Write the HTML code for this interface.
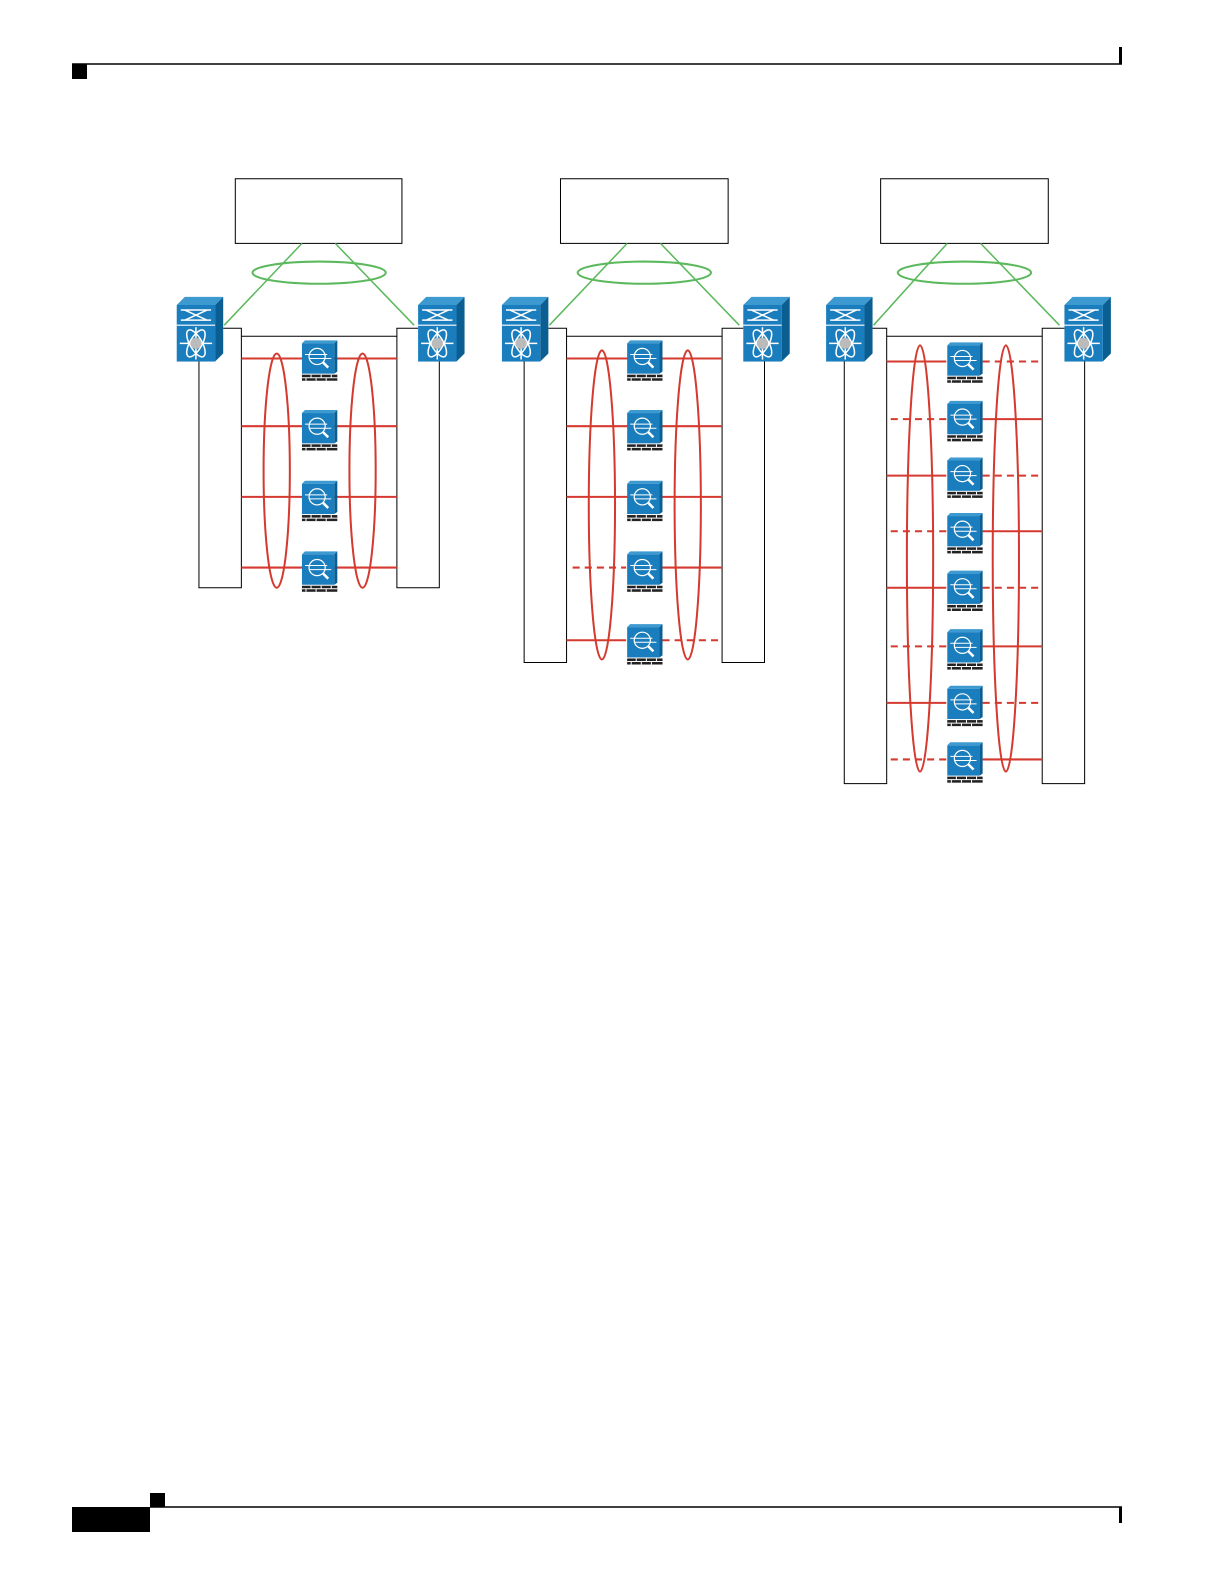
<!DOCTYPE html>
<html><head><meta charset="utf-8"><style>
html,body{margin:0;padding:0;background:#fff}
svg{display:block}
</style></head><body>
<svg width="1224" height="1584" viewBox="0 0 1224 1584" xmlns="http://www.w3.org/2000/svg">
<defs>
<g id="sw">
  <polygon points="0,8 8,0 46,0 38,8" fill="#3d9ad1"/>
  <polygon points="38,8 46,0 46,56 38,64" fill="#0a5e91"/>
  <rect x="0" y="8" width="38" height="20" fill="#1a7dbd"/>
  <rect x="0" y="28" width="38" height="36" fill="#1a7dbd"/>
  <line x1="0" y1="28" x2="38" y2="28" stroke="#fff" stroke-width="1"/>
  <g stroke="#fff" stroke-width="1.5" fill="none">
    <line x1="4" y1="13" x2="34" y2="13"/><line x1="4" y1="23" x2="34" y2="23"/>
    <line x1="8" y1="13" x2="30" y2="23"/><line x1="8" y1="23" x2="30" y2="13"/>
    <ellipse cx="19" cy="46" rx="15" ry="6" transform="rotate(60 19 46)"/>
    <ellipse cx="19" cy="46" rx="15" ry="6" transform="rotate(-60 19 46)"/>
    <line x1="3" y1="46" x2="35" y2="46"/><line x1="19" y1="30" x2="19" y2="62"/>
  </g>
  <circle cx="19" cy="46" r="5.5" fill="#bbb"/>
</g>
<g id="fw">
  <polygon points="-17,-14 -14,-17 18,-17 15,-14" fill="#3d9ad1"/>
  <polygon points="15,-14 18,-17 18,14 15,16" fill="#0a5e91"/>
  <rect x="-17" y="-14" width="32" height="30" fill="#1a7dbd"/>
  <circle cx="-2" cy="-1" r="8" fill="none" stroke="#fff" stroke-width="1.2"/>
  <line x1="4" y1="5" x2="9" y2="10" stroke="#fff" stroke-width="2.5"/>
  <line x1="-14" y1="-3" x2="8" y2="-3" stroke="#fff" stroke-width="1"/>
  <line x1="-10" y1="1" x2="12" y2="1" stroke="#fff" stroke-width="1"/>
  <rect x="-17" y="17" width="35" height="6" fill="#222"/>
  <g stroke="#fff" stroke-width="1">
    <line x1="-17" y1="20" x2="18" y2="20"/>
    <line x1="-8" y1="17" x2="-8" y2="20"/><line x1="2" y1="17" x2="2" y2="20"/><line x1="12" y1="17" x2="12" y2="20"/>
    <line x1="-13" y1="20" x2="-13" y2="23"/><line x1="-3" y1="20" x2="-3" y2="23"/><line x1="7" y1="20" x2="7" y2="23"/>
  </g>
</g>
</defs>

<line x1="72" y1="64" x2="1122" y2="64" stroke="#000" stroke-width="1.5"/>
<rect x="72" y="64" width="15" height="15" fill="#000"/>
<rect x="1119" y="47" width="3" height="17" fill="#000"/>
<line x1="150" y1="1507" x2="1122" y2="1507" stroke="#000" stroke-width="1.5"/>
<rect x="72" y="1507" width="78" height="25" fill="#000"/>
<rect x="150" y="1493" width="15" height="14" fill="#000"/>
<rect x="1119" y="1507" width="3" height="16" fill="#000"/>

<g transform="scale(1.0099)">
<g fill="none" stroke-width="1">
<rect x="233" y="177" width="165" height="64" stroke="#000"/>
<line x1="299" y1="241" x2="222" y2="322" stroke="#5cb85c" stroke-width="1.5"/>
<line x1="332" y1="241" x2="410" y2="322" stroke="#5cb85c" stroke-width="1.5"/>
<ellipse cx="316" cy="270" rx="66" ry="11" stroke="#5cb85c" stroke-width="2"/>
<polyline points="221,325 239,325 239,582 197,582 197,358" stroke="#000"/>
<polyline points="414,325 393,325 393,582 435,582 435,358" stroke="#000"/>
<line x1="239" y1="333" x2="393" y2="333" stroke="#000"/>
<g stroke="#d43a2f" stroke-width="2">
<line x1="239" y1="355" x2="393" y2="355"/><line x1="239" y1="422" x2="393" y2="422"/>
<line x1="239" y1="492" x2="393" y2="492"/><line x1="239" y1="562" x2="393" y2="562"/>
<ellipse cx="274" cy="466" rx="13" ry="116"/><ellipse cx="359" cy="466" rx="13" ry="116"/>
</g>

<rect x="555" y="177" width="166" height="64" stroke="#000"/>
<line x1="621" y1="241" x2="544" y2="322" stroke="#5cb85c" stroke-width="1.5"/>
<line x1="654" y1="241" x2="732" y2="322" stroke="#5cb85c" stroke-width="1.5"/>
<ellipse cx="638" cy="270" rx="66" ry="11" stroke="#5cb85c" stroke-width="2"/>
<polyline points="543,325 561,325 561,656 519,656 519,358" stroke="#000"/>
<polyline points="736,325 715,325 715,656 757,656 757,358" stroke="#000"/>
<line x1="561" y1="333" x2="715" y2="333" stroke="#000"/>
<g stroke="#d43a2f" stroke-width="2">
<line x1="561" y1="355" x2="715" y2="355"/><line x1="561" y1="422" x2="715" y2="422"/>
<line x1="561" y1="492" x2="715" y2="492"/>
<line x1="567" y1="562" x2="620" y2="562" stroke-dasharray="7,5"/><line x1="656" y1="562" x2="715" y2="562"/>
<line x1="561" y1="634" x2="620" y2="634"/><line x1="656" y1="634" x2="712" y2="634" stroke-dasharray="7,5"/>
<ellipse cx="596" cy="500" rx="13" ry="153"/><ellipse cx="681" cy="500" rx="13" ry="153"/>
</g>

<rect x="872" y="177" width="166" height="64" stroke="#000"/>
<line x1="938" y1="241" x2="865" y2="322" stroke="#5cb85c" stroke-width="1.5"/>
<line x1="971" y1="241" x2="1049" y2="322" stroke="#5cb85c" stroke-width="1.5"/>
<ellipse cx="955" cy="270" rx="66" ry="11" stroke="#5cb85c" stroke-width="2"/>
<polyline points="864,325 878,325 878,776 836,776 836,358" stroke="#000"/>
<polyline points="1054,325 1032,325 1032,776 1074,776 1074,358" stroke="#000"/>
<line x1="878" y1="333" x2="1032" y2="333" stroke="#000"/>
<g stroke="#d43a2f" stroke-width="2">
<line x1="878" y1="358" x2="937" y2="358"/><line x1="973" y1="358" x2="1032" y2="358" stroke-dasharray="7,5"/>
<line x1="882" y1="415" x2="937" y2="415" stroke-dasharray="7,5"/><line x1="973" y1="415" x2="1032" y2="415"/>
<line x1="878" y1="471" x2="937" y2="471"/><line x1="973" y1="471" x2="1032" y2="471" stroke-dasharray="7,5"/>
<line x1="882" y1="526" x2="937" y2="526" stroke-dasharray="7,5"/><line x1="973" y1="526" x2="1032" y2="526"/>
<line x1="878" y1="582" x2="937" y2="582"/><line x1="973" y1="582" x2="1032" y2="582" stroke-dasharray="7,5"/>
<line x1="882" y1="640" x2="937" y2="640" stroke-dasharray="7,5"/><line x1="973" y1="640" x2="1032" y2="640"/>
<line x1="878" y1="696" x2="937" y2="696"/><line x1="973" y1="696" x2="1032" y2="696" stroke-dasharray="7,5"/>
<line x1="882" y1="752" x2="937" y2="752" stroke-dasharray="7,5"/><line x1="973" y1="752" x2="1032" y2="752"/>
<ellipse cx="911" cy="553" rx="13" ry="211"/><ellipse cx="996" cy="553" rx="13" ry="211"/>
</g>
</g>

<use href="#sw" x="175" y="294"/><use href="#sw" x="414" y="294"/>
<use href="#sw" x="497" y="294"/><use href="#sw" x="736" y="294"/>
<use href="#sw" x="818" y="294"/><use href="#sw" x="1054" y="294"/>

<use href="#fw" x="316" y="354"/><use href="#fw" x="316" y="423"/>
<use href="#fw" x="316" y="493"/><use href="#fw" x="316" y="563"/>
<use href="#fw" x="638" y="354"/><use href="#fw" x="638" y="423"/>
<use href="#fw" x="638" y="493"/><use href="#fw" x="638" y="563"/><use href="#fw" x="638" y="635"/>
<use href="#fw" x="955" y="356"/><use href="#fw" x="955" y="414"/>
<use href="#fw" x="955" y="470"/><use href="#fw" x="955" y="525"/>
<use href="#fw" x="955" y="582"/><use href="#fw" x="955" y="640"/>
<use href="#fw" x="955" y="696"/><use href="#fw" x="955" y="752"/>
</g>
</svg>
</body></html>
